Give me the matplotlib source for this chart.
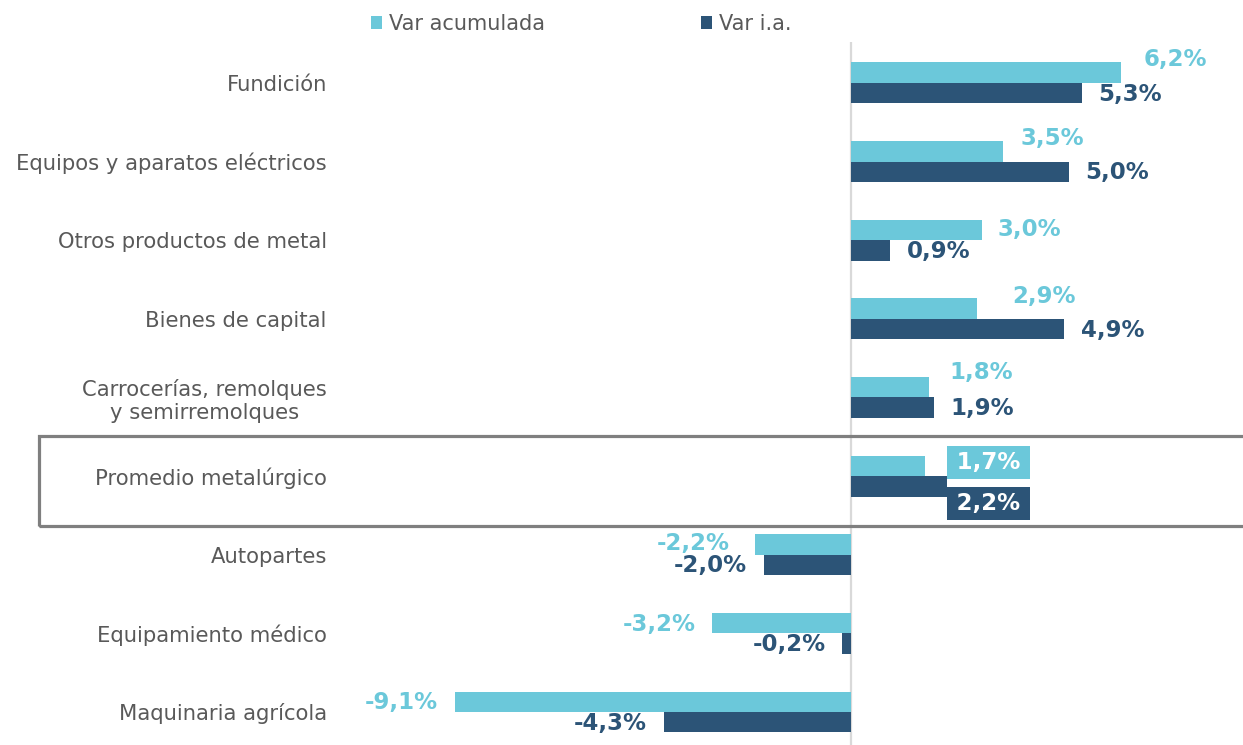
import numpy as np
import matplotlib.pyplot as plt
from matplotlib.patches import Rectangle

categories = ["Fundición", "Equipos y aparatos eléctricos", "Otros productos de metal",
              "Bienes de capital", "Carrocerías, remolques\ny semirremolques",
              "Promedio metalúrgico", "Autopartes", "Equipamiento médico",
              "Maquinaria agrícola"]
var_acumulada = [6.2, 3.5, 3.0, 2.9, 1.8, 1.7, -2.2, -3.2, -9.1]
var_ia = [5.3, 5.0, 0.9, 4.9, 1.9, 2.2, -2.0, -0.2, -4.3]
highlight = "Promedio metalúrgico"

c_acum = "#6BC8DA"
c_ia = "#2C5477"
c_text = "#595959"

# label nudges in pixels (the original labels were moved by hand)
acum_dx = [23, 17, 16, 35, 20, 0, 26, 16, 17]
acum_dy = [13, 13, 0, 12, 15, 0, 1, -1, -1]

dpi = 100
fig = plt.figure(figsize=(12.43, 7.45), dpi=dpi)
ax = fig.add_axes([340 / 1243, 0, 1 - 340 / 1243, 1 - 42 / 745])

y = np.arange(len(categories))
h = 0.26
ax.barh(y - h / 2, var_acumulada, height=h, color=c_acum, label="Var acumulada")
ax.barh(y + h / 2, var_ia, height=h, color=c_ia, label="Var i.a.")
ax.axvline(0, color="#D9D9D9", lw=1.6, zorder=0)

ax.set_xlim(-11.75, 9.01)
ax.set_ylim(8.42, -0.52)
ax.set_xticks([])
ax.set_yticks(y)
ax.set_yticklabels(categories, fontsize=15.2, color=c_text)
ax.tick_params(axis="y", length=0, pad=9.5)
for lbl in ax.get_yticklabels():
    lbl.set_multialignment("center")
for s in ax.spines.values():
    s.set_visible(False)

px = 72 / dpi  # points per pixel
fmt = lambda v: f"{v:.1f}%".replace(".", ",")

for i, cat in enumerate(categories):
    a, b = var_acumulada[i], var_ia[i]
    if cat == highlight:
        x0 = max(a, b, 0)
        pad = 0.22
        for val, yy, dy, col in [(a, i - h / 2, 3, c_acum), (b, i + h / 2, -17.5, c_ia)]:
            ax.annotate("\u2009" + fmt(val) + "\u2009", (x0, yy),
                        xytext=(pad * 16.5, dy * px),
                        textcoords="offset points", ha="left", va="center",
                        fontsize=16.5, fontweight="bold", color="white",
                        bbox=dict(boxstyle=f"square,pad={pad}", fc=col, ec="none"))
        continue
    sa = 1 if a >= 0 else -1
    ax.annotate(fmt(a), (a, i - h / 2), xytext=(sa * acum_dx[i] * px, acum_dy[i] * px),
                textcoords="offset points", ha="left" if sa > 0 else "right",
                va="center", fontsize=16.5, fontweight="bold", color=c_acum)
    sb = 1 if b >= 0 else -1
    ax.annotate(fmt(b), (b, i + h / 2), xytext=(sb * 17 * px, -1 * px),
                textcoords="offset points", ha="left" if sb > 0 else "right",
                va="center", fontsize=16.5, fontweight="bold", color=c_ia)

# frame around the average row
fig.patches.append(Rectangle((39 / 1243, 1 - 526 / 745), 1.0, 90 / 745,
                             transform=fig.transFigure, fill=False,
                             ec="#7F7F7F", lw=2.3, clip_on=False))

fig.legend(loc="center", bbox_to_anchor=(581 / 1243, 1 - 24 / 745), ncol=2,
           frameon=False, fontsize=15, labelcolor=c_text, handlelength=0.55,
           handleheight=0.55, handletextpad=0.3, columnspacing=7.5)

fig.savefig("out.png", dpi=dpi)
